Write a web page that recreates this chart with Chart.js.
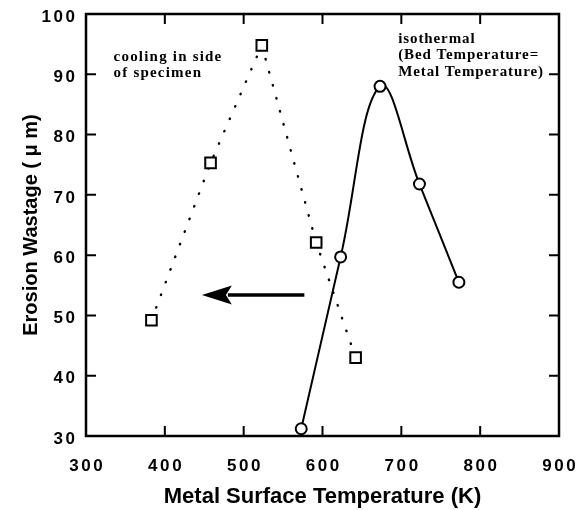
<!DOCTYPE html>
<html>
<head>
<meta charset="utf-8">
<style>
  html, body { margin: 0; padding: 0; background: #fff; }
</style>
<script src="https://cdn.jsdelivr.net/npm/chart.js@4.4.1/dist/chart.umd.min.js"></script>
</head>
<body>
<canvas id="chart" width="586" height="510"></canvas>
<script>
// cooling in side of specimen (squares, dotted)
const coolingTemp = [383, 458, 523, 592, 642];
const coolingWastage = [49.2, 75.3, 94.8, 62.1, 43.0];
// isothermal (circles, solid curve)
const isoTemp = [573, 623, 673, 723, 773];
const isoWastage = [31.2, 59.7, 88.0, 71.8, 55.5];

const xTicks = [300, 400, 500, 600, 700, 800, 900];
const yTicks = [30, 40, 50, 60, 70, 80, 90, 100];

// arrow, in data units: [temperature, wastage]
const arrowTail = [577, 53.4];
const arrowTip = [447, 53.4];

const coolingNote = ['cooling in side', 'of specimen'];
const isoNote = ['isothermal', '(Bed Temperature=', 'Metal Temperature)'];

const toPts = (xs, ys) => xs.map((x, i) => ({x: x, y: ys[i]}));

// wide-spaced tick labels, like the original
function spaceLabels(s, dx, dy) {
  s.paddingLeft = s.paddingRight = s.paddingTop = s.paddingBottom = 0;
  if (s._spaced) return;
  const orig = s.drawLabels;
  s.drawLabels = function(ca) {
    const ctx = this.ctx;
    ctx.save();
    ctx.letterSpacing = '2.6px';
    ctx.translate(dx, dy);
    orig.call(this, ca);
    ctx.restore();
  };
  s._spaced = true;
}

// box, inward ticks, arrow and notes
const framePlugin = {
  id: 'frame',
  afterDatasetsDraw(chart) {
    const ctx = chart.ctx;
    const a = chart.chartArea;
    const xs = chart.scales.x, ys = chart.scales.y;
    ctx.save();
    ctx.strokeStyle = '#000';
    ctx.lineWidth = 2.5;
    ctx.strokeRect(a.left, a.top, a.right - a.left, a.bottom - a.top);
    ctx.lineWidth = 2;
    const tl = 10;
    ctx.beginPath();
    xTicks.slice(1, -1).forEach(v => {
      const px = xs.getPixelForValue(v);
      ctx.moveTo(px, a.bottom); ctx.lineTo(px, a.bottom - tl);
      ctx.moveTo(px, a.top); ctx.lineTo(px, a.top + tl);
    });
    yTicks.slice(1, -1).forEach(v => {
      const py = ys.getPixelForValue(v);
      ctx.moveTo(a.left, py); ctx.lineTo(a.left + tl, py);
      ctx.moveTo(a.right, py); ctx.lineTo(a.right - tl, py);
    });
    ctx.stroke();

    // arrow
    const tx = xs.getPixelForValue(arrowTail[0]), ty = ys.getPixelForValue(arrowTail[1]);
    const hx = xs.getPixelForValue(arrowTip[0]), hy = ys.getPixelForValue(arrowTip[1]);
    const headLen = 30, headHalf = 9.5;
    ctx.lineWidth = 3.5;
    ctx.beginPath();
    ctx.moveTo(tx, ty); ctx.lineTo(hx + headLen - 4, hy);
    ctx.stroke();
    ctx.fillStyle = '#000';
    ctx.beginPath();
    ctx.moveTo(hx, hy);
    ctx.lineTo(hx + headLen, hy - headHalf);
    ctx.lineTo(hx + headLen - 6, hy);
    ctx.lineTo(hx + headLen, hy + headHalf);
    ctx.closePath();
    ctx.fill();

    // notes
    ctx.font = 'bold 15px "Liberation Serif", serif';
    ctx.textBaseline = 'alphabetic';
    ctx.textAlign = 'left';
    ctx.letterSpacing = '1.2px';
    const cx = xs.getPixelForValue(335), cy = ys.getPixelForValue(92.2);
    coolingNote.forEach((t, i) => ctx.fillText(t, cx, cy + i * 16));
    ctx.letterSpacing = '0.9px';
    const ix = xs.getPixelForValue(696), iy = ys.getPixelForValue(95.2);
    isoNote.forEach((t, i) => ctx.fillText(t, ix, iy + i * 16.5));
    ctx.restore();
  }
};

new Chart(document.getElementById('chart').getContext('2d'), {
  type: 'scatter',
  data: {
    datasets: [
      {
        label: 'cooling in side of specimen',
        data: toPts(coolingTemp, coolingWastage),
        showLine: true,
        borderColor: '#000',
        borderWidth: 2.4,
        borderDash: [0.5, 13],
        borderCapStyle: 'round',
        tension: 0,
        pointStyle: 'rect',
        pointRadius: 7.5,
        pointBorderWidth: 2,
        pointBackgroundColor: '#fff',
        pointBorderColor: '#000'
      },
      {
        label: 'isothermal',
        data: toPts(isoTemp, isoWastage),
        showLine: true,
        borderColor: '#000',
        borderWidth: 2,
        tension: 0.4,
        pointStyle: 'circle',
        pointRadius: 5.5,
        pointBorderWidth: 2,
        pointBackgroundColor: '#fff',
        pointBorderColor: '#000'
      }
    ]
  },
  options: {
    responsive: false,
    animation: false,
    layout: { padding: { left: 0, right: 27, top: 14, bottom: 0 } },
    plugins: { legend: { display: false }, tooltip: { enabled: false } },
    scales: {
      x: {
        type: 'linear', min: 300, max: 900,
        afterBuildTicks: s => { s.ticks = xTicks.map(v => ({value: v})); },
        afterFit: s => { s.height = 74; spaceLabels(s, 1.3, 0); },
        grid: { display: false, drawTicks: false },
        border: { display: false },
        ticks: { color: '#000', padding: 20, font: { family: 'Liberation Sans', size: 17, weight: 'bold' } },
        title: { display: true, text: 'Metal Surface Temperature (K)', color: '#000',
                 padding: { top: 0, bottom: 0 },
                 font: { family: 'Liberation Sans', size: 22, weight: 'bold' } }
      },
      y: {
        type: 'linear', min: 30, max: 100,
        afterBuildTicks: s => { s.ticks = yTicks.map(v => ({value: v})); },
        afterFit: s => { s.width = 86; spaceLabels(s, 0, 3); },
        grid: { display: false, drawTicks: false },
        border: { display: false },
        ticks: { color: '#000', padding: 8.4, font: { family: 'Liberation Sans', size: 17, weight: 'bold' } },
        title: { display: true, text: 'Erosion Wastage ( \u03bc m)', color: '#000',
                 padding: { top: 19, bottom: 0 },
                 font: { family: 'Liberation Sans', size: 20, weight: 'bold' } }
      }
    }
  },
  plugins: [framePlugin]
});
</script>
</body>
</html>
